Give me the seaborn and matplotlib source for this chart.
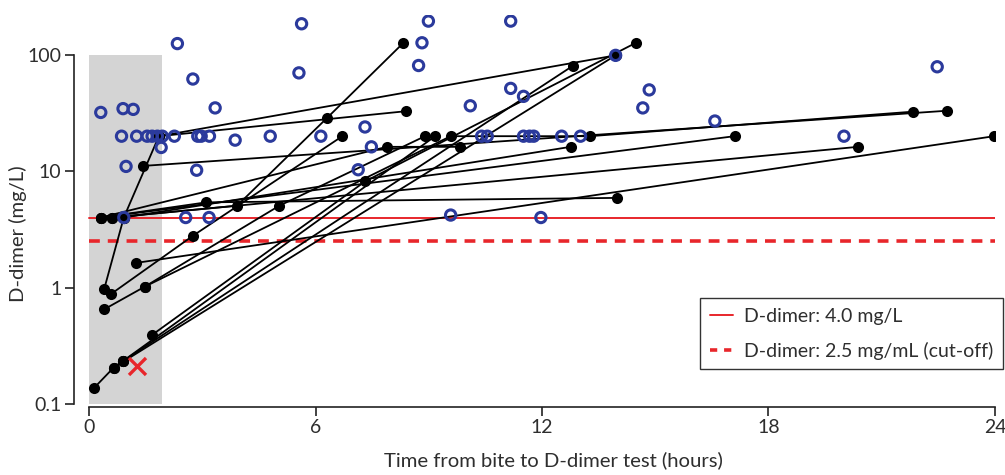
import pandas as pd
import matplotlib.pyplot as plt
import matplotlib.patches as mpatches
from matplotlib.lines import Line2D
import seaborn as sns

# single D-dimer tests (open circles)
single_time = [0.31, 0.90, 1.17, 0.86, 1.26, 1.54, 1.67, 1.81, 1.94, 1.91, 2.26, 0.98,
               2.34, 2.75, 3.34, 2.88, 2.97, 3.19, 2.85, 3.87, 4.80, 5.63, 5.56, 6.14,
               0.92, 2.56, 3.18, 8.99, 8.82, 8.73, 11.17, 7.31, 7.48, 7.13, 10.10, 11.17,
               11.51, 10.40, 10.55, 11.51, 11.67, 11.78, 12.52, 13.02, 13.95, 14.84, 14.67,
               9.58, 11.97, 16.58, 20.0, 22.47]
single_ddimer = [32, 34.5, 34, 20, 20, 20, 20, 20, 20, 16, 20, 11,
                 125, 62, 35, 20, 20, 20, 10.2, 18.5, 20, 185, 70, 20,
                 4.0, 4.0, 4.0, 195, 127, 81, 195, 24, 16.2, 10.3, 36.5, 51.5,
                 44, 20, 20, 20, 20, 20, 20, 20, 99, 50, 35,
                 4.2, 4.0, 27, 20, 79]

# serial D-dimer tests (joined dots), one list per patient
serial_time = [[0.13, 0.65, 0.90],
               [0.90, 12.83],
               [0.65, 13.95],
               [1.66, 7.32, 14.49],
               [0.40, 0.92, 1.85, 13.95],
               [1.85, 8.40],
               [1.42, 22.73],
               [0.40, 1.48, 5.04, 8.90],
               [0.58, 2.76, 6.71],
               [0.61, 3.92, 6.31, 8.33],
               [0.31, 3.10, 14.0],
               [0.61, 20.37],
               [0.31, 17.10],
               [0.92, 12.76],
               [1.25, 23.98],
               [1.48, 9.58, 13.27, 21.83],
               [0.31, 7.89, 9.83],
               [0.90, 9.17]]
serial_ddimer = [[0.137, 0.205, 0.234],
                 [0.234, 81],
                 [0.205, 99],
                 [0.39, 8.2, 127],
                 [0.97, 4.0, 20, 99],
                 [20, 32.8],
                 [11.1, 33.1],
                 [0.65, 1.02, 5.05, 20],
                 [0.88, 2.8, 20],
                 [4.0, 5.05, 28.8, 127],
                 [4.0, 5.4, 5.9],
                 [4.0, 16.2],
                 [4.0, 20],
                 [4.0, 16.2],
                 [1.63, 20],
                 [1.02, 20, 20, 32.5],
                 [4.0, 16.2, 16.2],
                 [0.234, 20]]

# excluded patient
cross_time = [1.26]
cross_ddimer = [0.211]

single = pd.DataFrame({'time': single_time, 'ddimer': single_ddimer})
rows = []
for pid, (tt, dd) in enumerate(zip(serial_time, serial_ddimer)):
    for t, d in zip(tt, dd):
        rows.append({'patient': pid, 'time': t, 'ddimer': d})
serial = pd.DataFrame(rows)

sns.set_style('white')
plt.rcParams['font.family'] = ['Lato', 'DejaVu Sans']

fig = plt.figure(figsize=(10.05, 4.75), dpi=100)
ax = fig.add_axes([0.0736, 0.1438, 0.9164, 0.8246])

# grey window (first 2 hours)
ax.add_patch(mpatches.Rectangle((0, 0.1), 1.92, 99.9, facecolor='#d4d4d4', edgecolor='none', zorder=0))

# cut-off lines
ax.plot([0, 24], [4.0, 4.0], color='#e8262b', lw=1.4, zorder=1)
ax.plot([0, 24], [2.5, 2.5], color='#e8262b', lw=2.6, dashes=(3.0, 2.2), zorder=1)

sns.lineplot(data=serial, x='time', y='ddimer', units='patient', estimator=None,
             sort=False, color='black', lw=1.3, marker='o', markersize=8,
             markeredgewidth=0, ax=ax, zorder=3, legend=False)

sns.scatterplot(data=single, x='time', y='ddimer', marker='o', s=55,
                facecolor='none', edgecolor='#2b3a9c', linewidth=2.2, ax=ax, zorder=4)

ax.scatter(cross_time, cross_ddimer, marker='x', s=150, color='#e8262b', linewidths=2.4, zorder=5)

ax.set_yscale('log')
ax.set_xlim(-0.4, 24)
ax.set_ylim(0.0947, 220)
ax.set_xticks([0, 6, 12, 18, 24])
ax.set_xticklabels(['0', '6', '12', '18', '24'])
ax.set_yticks([0.1, 1, 10, 100])
ax.set_yticklabels(['0.1', '1', '10', '100'])
ax.minorticks_off()
ax.tick_params(axis='both', direction='out', length=6.5, width=1.2, colors='#222222',
               labelsize=14, labelcolor='#2e2e2e', left=True, bottom=True, pad=2.5)

for side in ['top', 'right']:
    ax.spines[side].set_visible(False)
ax.spines['left'].set_bounds(0.1, 100)
ax.spines['bottom'].set_bounds(0, 24)
for side in ['left', 'bottom']:
    ax.spines[side].set_color('#222222')
    ax.spines[side].set_linewidth(1.2)

ax.set_xlabel('Time from bite to D-dimer test (hours)', fontsize=14.6, color='#2e2e2e')
ax.set_ylabel('D-dimer (mg/L)', fontsize=14.6, color='#2e2e2e')
ax.xaxis.set_label_coords(0.521, -0.114)
ax.yaxis.set_label_coords(-0.051, 0.441)

handles = [Line2D([0], [0], color='#e8262b', lw=1.4),
           Line2D([0], [0], color='#e8262b', lw=2.6, dashes=(2.0, 1.9))]
leg = ax.legend(handles, ['D-dimer: 4.0 mg/L', 'D-dimer: 2.5 mg/mL (cut-off)'],
                loc='lower right', bbox_to_anchor=(1.0087, 0.095), borderaxespad=0,
                fontsize=14, frameon=True, fancybox=False, edgecolor='#333333',
                handlelength=1.2, handletextpad=0.55, labelspacing=0.88, borderpad=0.5)
leg.get_frame().set_linewidth(1.0)
leg.get_frame().set_alpha(1)
for t in leg.get_texts():
    t.set_color('#2e2e2e')

plt.savefig('out.png', dpi=100)
